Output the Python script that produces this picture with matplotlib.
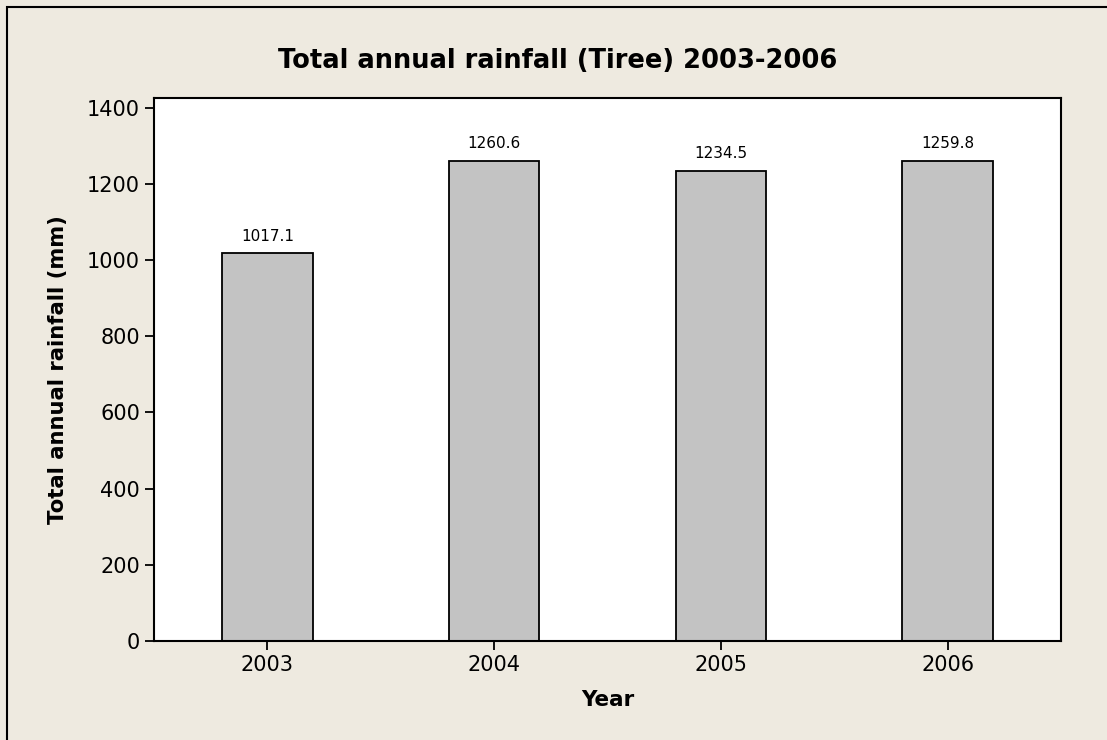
import matplotlib
matplotlib.use("Agg")
import matplotlib.pyplot as plt
from matplotlib.patches import Rectangle

years = ["2003", "2004", "2005", "2006"]
rainfall = [1017.1, 1260.6, 1234.5, 1259.8]
yticks = [0, 200, 400, 600, 800, 1000, 1200, 1400]

BG = "#EEEAE0"
plt.rcParams.update({"font.family": "DejaVu Sans"})

fig = plt.figure(figsize=(11.07, 7.40), dpi=100, facecolor=BG)
ax = fig.add_axes([154/1107, 99/740, 907/1107, 543/740])
ax.set_facecolor("white")

pos = range(len(years))
ax.bar(pos, rainfall, width=0.4, color="#C3C3C3", edgecolor="black", linewidth=1.3, zorder=2)
for x, v in zip(pos, rainfall):
    ax.annotate(f"{v:.1f}", (x, v), xytext=(0, 7), textcoords="offset points",
                ha="center", va="bottom", fontsize=11)

ax.set_xlim(-0.5, 3.5)
ax.set_ylim(0, 1425)
ax.set_xticks(list(pos))
ax.set_xticklabels(years)
ax.set_yticks(yticks)
ax.tick_params(axis="both", labelsize=15, length=6.5, width=1.3, direction="out", color="black")
for s in ax.spines.values():
    s.set_linewidth(1.5)
    s.set_color("black")

fig.text(558/1107, 1 - 61/740, "Total annual rainfall (Tiree) 2003-2006",
         fontsize=18.5, weight="bold", ha="center", va="center")
ax.set_xlabel("Year", fontsize=15.5, weight="bold", labelpad=11)
ax.set_ylabel("Total annual rainfall (mm)", fontsize=15.2, weight="bold", labelpad=14)

# outer frame (top and left edges visible)
fig.add_artist(Rectangle((7/1107, -0.1), 1.2, 1.1 - 7/740, transform=fig.transFigure,
                         fill=False, edgecolor="black", linewidth=1.5))

fig.savefig("out.png", dpi=100, facecolor=BG)
